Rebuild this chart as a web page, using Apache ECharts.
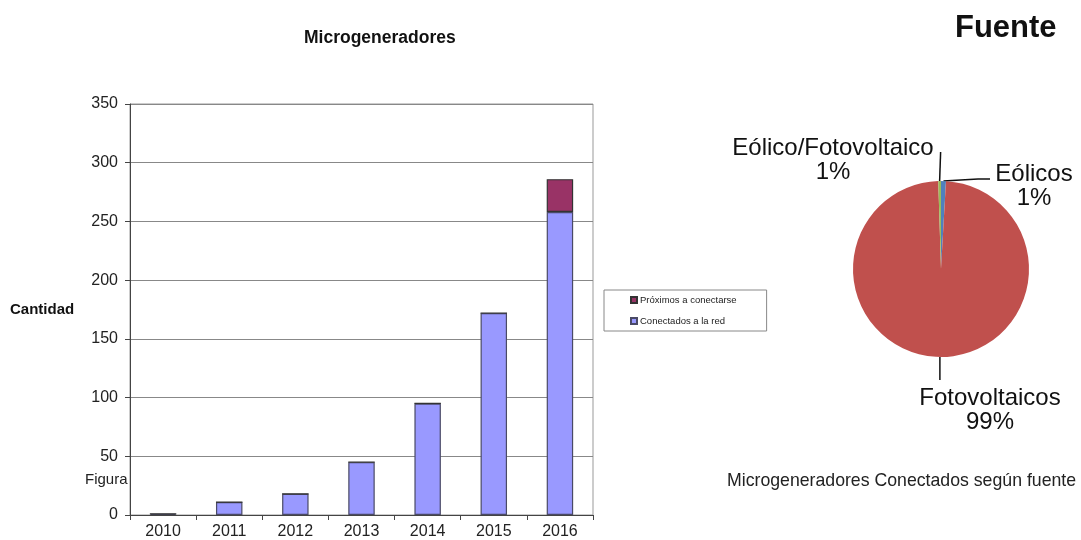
<!DOCTYPE html>
<html>
<head>
<meta charset="utf-8">
<script src="https://cdn.jsdelivr.net/npm/echarts@6/dist/echarts.min.js"></script>
<style>
html,body{margin:0;padding:0;background:#fff;}
#c{width:1081px;height:540px;}
</style>
</head>
<body>
<div id="c"></div>
<script>
// ---- data ----
var years = ['2010', '2011', '2012', '2013', '2014', '2015', '2016'];
var conectados = [1, 11, 18, 45, 95, 172, 258];
var proximos = [0, 0, 0, 0, 0, 0, 28];
var yTicks = [0, 50, 100, 150, 200, 250, 300, 350];
var pieNames = ['Eólicos', 'Fotovoltaicos', 'Eólico/Fotovoltaico'];
var pieValues = [0.9, 98.6, 0.5];

var FONT = '"Liberation Sans", Arial, sans-serif';
var pieCx = 941, pieCy = 269, pieR = 88;
var pieTotal = pieValues.reduce(function (a, b) { return a + b; }, 0);

var chart = echarts.init(document.getElementById('c'), null, { renderer: 'canvas' });

var option = {
  backgroundColor: '#fff',
  animation: false,
  textStyle: { fontFamily: FONT },
  title: [
    { text: 'Microgeneradores', left: 299, top: 24,
      textStyle: { fontFamily: FONT, fontSize: 17.5, fontWeight: 'bold', color: '#111' } },
    { text: 'Fuente', left: 950, top: 8,
      textStyle: { fontFamily: FONT, fontSize: 31, fontWeight: 'bold', color: '#111' } }
  ],
  graphic: [
    { type: 'text', left: 10, top: 302, z: 10,
      style: { text: 'Cantidad', font: 'bold 15px ' + FONT, fill: '#111' } },
    { type: 'text', left: 85, top: 472, z: -10, zlevel: 0,
      style: { text: 'Figura', font: '15px ' + FONT, fill: '#222' } },
    { type: 'text', left: 727, top: 472,
      style: { text: 'Microgeneradores Conectados según fuente', font: '17.7px ' + FONT, fill: '#222' } }
  ],
  legend: {
    data: ['Próximos a conectarse', 'Conectados a la red'],
    orient: 'vertical',
    left: 604, top: 290,
    padding: [5, 30, 5, 26],
    itemGap: 11,
    itemWidth: 6, itemHeight: 6,
    icon: 'rect',
    borderColor: '#888', borderWidth: 1,
    backgroundColor: '#fff',
    textStyle: { fontFamily: FONT, fontSize: 9.5, color: '#222', padding: [0, 0, 0, -2] }
  },
  grid: {
    left: 130, right: 488, top: 104, bottom: 24,
    show: true, borderColor: '#999', borderWidth: 1, backgroundColor: '#fff'
  },
  xAxis: {
    type: 'category',
    data: years,
    axisLine: { lineStyle: { color: '#444', width: 1 } },
    axisTick: { show: true, length: 5, lineStyle: { color: '#444' } },
    axisLabel: { color: '#222', fontSize: 16, margin: 9, fontFamily: FONT }
  },
  yAxis: {
    type: 'value',
    min: yTicks[0], max: yTicks[yTicks.length - 1], interval: 50,
    axisLine: { show: true, lineStyle: { color: '#444', width: 1 } },
    axisTick: { show: true, length: 5, lineStyle: { color: '#444' } },
    axisLabel: { color: '#222', fontSize: 16, margin: 12, fontFamily: FONT },
    splitLine: { lineStyle: { color: '#888', width: 1 } }
  },
  series: [
    {
      name: 'Conectados a la red', type: 'bar', stack: 'total',
      data: conectados, barWidth: '40%',
      itemStyle: { color: '#9999FF', borderColor: '#4a4a66', borderWidth: 1.2 }
    },
    {
      name: 'Próximos a conectarse', type: 'bar', stack: 'total',
      data: proximos, barWidth: '40%',
      itemStyle: { color: '#993366', borderColor: '#333', borderWidth: 1.2 }
    },
    {
      name: 'Fuente', type: 'pie',
      center: [pieCx, pieCy], radius: pieR,
      startAngle: 90, clockwise: true,
      avoidLabelOverlap: false,
      data: pieNames.map(function (n, i) { return { name: n, value: pieValues[i] }; }),
      color: ['#4F81BD', '#C0504D', '#9BBB59'],
      itemStyle: { borderWidth: 0 },
      label: {
        show: true, position: 'outside',
        fontFamily: FONT, fontSize: 24, color: '#111', lineHeight: 24,
        align: 'center',
        formatter: function (p) {
          return p.name + '\n' + Math.round(p.value / pieTotal * 100) + '%';
        }
      },
      labelLine: { show: true, length: 10, length2: 10, lineStyle: { color: '#111', width: 1.5 } },
      labelLayout: function (p) {
        var a = p.labelLinePoints && p.labelLinePoints[0];
        if (p.dataIndex === 2) {
          return { x: pieCx - 108, y: pieCy - 133, align: 'center', verticalAlign: 'top',
            labelLinePoints: a ? [a, [a[0] + 1, pieCy - 117]] : undefined };
        } else if (p.dataIndex === 0) {
          return { x: pieCx + 93, y: pieCy - 107, align: 'center', verticalAlign: 'top',
            labelLinePoints: a ? [a, [pieCx + 37, pieCy - 90], [pieCx + 49, pieCy - 90]] : undefined };
        } else {
          return { x: pieCx + 49, y: pieCy + 117, align: 'center', verticalAlign: 'top',
            labelLinePoints: a ? [a, [a[0], pieCy + 111]] : undefined };
        }
      }
    }
  ]
};
chart.setOption(option);
</script>
</body>
</html>
